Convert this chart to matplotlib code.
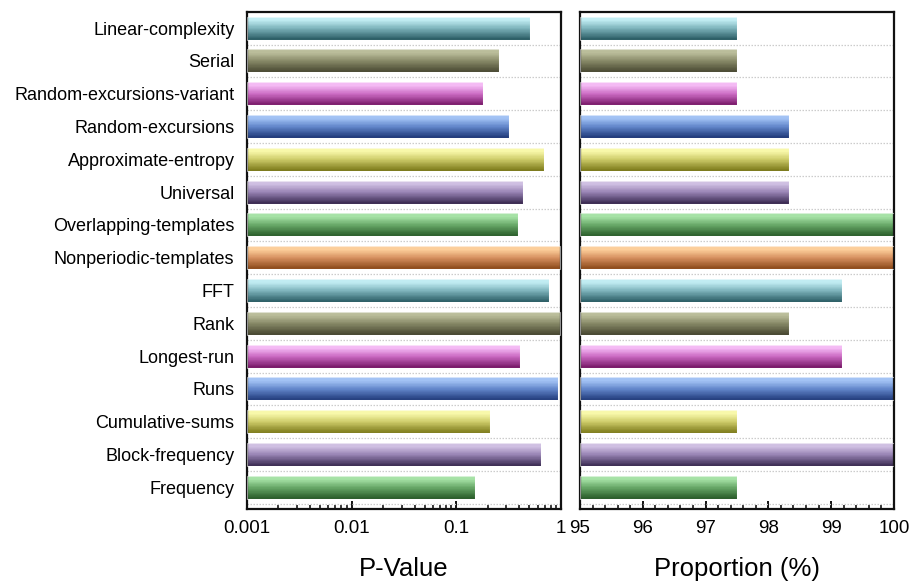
import numpy as np
import matplotlib
matplotlib.use("Agg")
import matplotlib.pyplot as plt
from matplotlib.colors import LinearSegmentedColormap
from matplotlib.ticker import FixedLocator, FixedFormatter, NullFormatter, MultipleLocator

plt.rcParams['font.family'] = ['Liberation Sans', 'DejaVu Sans']

# NIST SP 800-22 test results (bottom to top)
tests = ["Frequency", "Block-frequency", "Cumulative-sums", "Runs", "Longest-run",
         "Rank", "FFT", "Nonperiodic-templates", "Overlapping-templates", "Universal",
         "Approximate-entropy", "Random-excursions", "Random-excursions-variant",
         "Serial", "Linear-complexity"]
p_values = [0.150, 0.65, 0.21, 0.94, 0.41, 0.99, 0.77, 0.98, 0.39, 0.43,
            0.69, 0.32, 0.182, 0.256, 0.51]
passed = [117, 120, 117, 120, 119, 118, 119, 120, 120, 118, 118, 118, 117, 117, 117]
n_sequences = 120
proportions = [100.0 * k / n_sequences for k in passed]

p_ticks = [0.001, 0.01, 0.1, 1]
p_tick_labels = ["0.001", "0.01", "0.1", "1"]
prop_ticks = [95, 96, 97, 98, 99, 100]

# light / mid / dark shades for the gradient fill, cycling through the bars
palette = [
    ("#a6e2a6", "#68a868", "#265826"),   # green
    ("#cfbfe2", "#9884b4", "#38284f"),   # purple
    ("#f8f8aa", "#cecc6a", "#787616"),   # yellow
    ("#a2c2f4", "#6286ca", "#1d3676"),   # blue
    ("#f4baf4", "#cc6cc4", "#761666"),   # magenta
    ("#babd9a", "#888a68", "#44442e"),   # olive
    ("#c0ecf2", "#7eb4bc", "#285a62"),   # teal
    ("#fcce9a", "#d69060", "#884616"),   # orange
]

BAR_H = 0.7
N_LAYERS = 40


def gradient_barh(ax, y, value, left, shades):
    cmap = LinearSegmentedColormap.from_list(
        "g", [(0.0, shades[0]), (0.15, shades[0]), (0.5, shades[1]), (1.0, shades[2])])
    bottom = y - BAR_H / 2
    for k in range(N_LAYERS):
        frac = k / N_LAYERS
        h = BAR_H * (1 - frac)
        ax.barh(bottom, value - left, left=left, height=h, align="edge",
                color=cmap(frac + 0.5 / N_LAYERS), linewidth=0, zorder=2)
    ax.barh(bottom, value - left, left=left, height=BAR_H, align="edge",
            fill=False, edgecolor=(1, 1, 1, 0.55), linewidth=0.8, zorder=3)


fig = plt.figure(figsize=(9.12, 5.81), dpi=100)
ax1 = fig.add_axes([0.2708, 0.1239, 0.3442, 0.8554])
ax2 = fig.add_axes([0.6360, 0.1239, 0.3442, 0.8554])

ypos = np.arange(len(tests))

ax1.set_xscale("log")
for i, v in enumerate(p_values):
    gradient_barh(ax1, ypos[i], v, p_ticks[0], palette[i % len(palette)])
for i, v in enumerate(proportions):
    gradient_barh(ax2, ypos[i], v, prop_ticks[0], palette[i % len(palette)])

ax1.set_xlim(p_ticks[0], p_ticks[-1])
ax1.xaxis.set_major_locator(FixedLocator(p_ticks))
ax1.xaxis.set_major_formatter(FixedFormatter(p_tick_labels))
ax1.xaxis.set_minor_formatter(NullFormatter())

ax2.set_xlim(prop_ticks[0], prop_ticks[-1])
ax2.xaxis.set_major_locator(FixedLocator(prop_ticks))
ax2.xaxis.set_minor_locator(MultipleLocator(0.2))

for ax in (ax1, ax2):
    ax.set_ylim(-0.66, len(tests) - 0.51)
    ax.set_yticks(ypos)
    ax.set_yticks(ypos - 0.5, minor=True)
    ax.grid(axis="y", which="minor", color="#cccccc", linestyle=(0, (1.2, 1.2)),
            linewidth=0.9, zorder=1)
    ax.set_axisbelow(True)
    ax.tick_params(axis="y", which="both", length=0)
    ax.tick_params(axis="x", which="major", direction="in", length=6, width=1.3,
                   labelsize=13.5, pad=8, top=False)
    ax.tick_params(axis="x", which="minor", direction="in", length=3, width=1.1, top=False)
    for s in ax.spines.values():
        s.set_linewidth(1.6)
        s.set_color("#111111")

ax1.set_yticklabels(tests, fontsize=13)
ax1.tick_params(axis="y", pad=9)
ax2.set_yticklabels([])

ax1.set_xlabel("P-Value", fontsize=18.5, labelpad=14)
ax2.set_xlabel("Proportion (%)", fontsize=18.5, labelpad=14)

fig.savefig("out.png", dpi=100)
